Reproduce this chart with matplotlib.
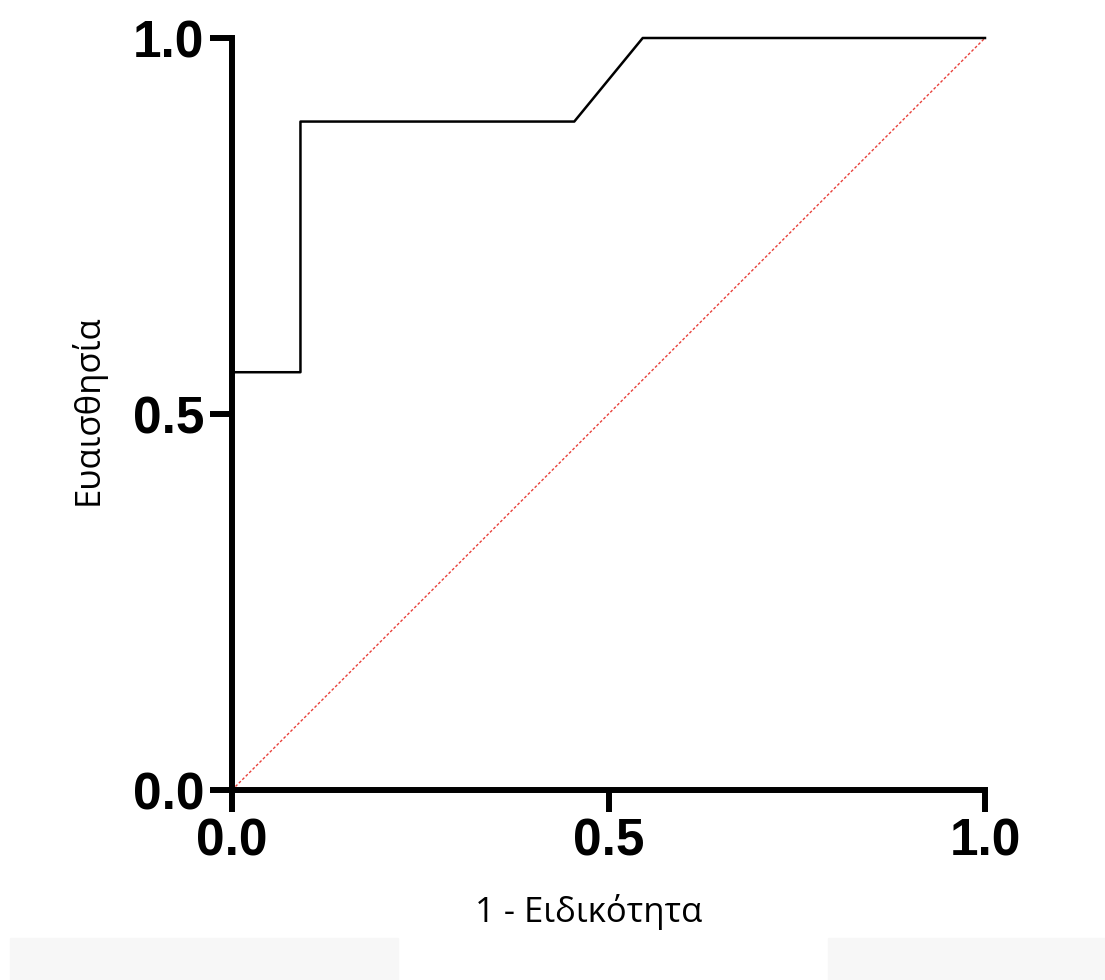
import matplotlib.pyplot as plt
from matplotlib.patches import Rectangle

# ROC curve data (1 - specificity, sensitivity)
fpr = [0.0, 1/11, 1/11, 5/11, 6/11, 1.0]
tpr = [5/9, 5/9, 8/9, 8/9, 1.0, 1.0]
ref_line = [0.0, 1.0]
ticks = [0.0, 0.5, 1.0]
tick_labels = ['0.0', '0.5', '1.0']

fig = plt.figure(figsize=(11.05, 9.8), dpi=100)
ax = fig.add_axes([232/1105, 190/980, 753/1105, 752/980])

ax.plot(fpr, tpr, color='black', lw=1.8, clip_on=False, zorder=3)
ax.plot(ref_line, ref_line, color='#e8403a', lw=1.0, ls=(0, (2, 1.5)), clip_on=False, zorder=2)

ax.set_xlim(0, 1)
ax.set_ylim(0, 1)
for s in ['top', 'right']:
    ax.spines[s].set_visible(False)
for s in ['left', 'bottom']:
    ax.spines[s].set_linewidth(4.3)
    ax.spines[s].set_capstyle('projecting')

ax.set_xticks(ticks)
ax.set_yticks(ticks)
ax.set_xticklabels(tick_labels, fontfamily='Liberation Sans', fontweight='bold', fontsize=37)
ax.set_yticklabels(tick_labels, fontfamily='Liberation Sans', fontweight='bold', fontsize=37)
ax.tick_params(axis='both', direction='out', length=16, width=4.3, pad=4)

ax.set_xlabel('1 - Ειδικότητα', fontfamily='Open Sans', fontsize=25, va='center')
ax.set_ylabel('Ευαισθησία', fontfamily='Open Sans', fontsize=25, va='center')
ax.xaxis.set_label_coords((589-232)/753, -(912-790)/752)
ax.yaxis.set_label_coords(-(232-88)/753, (790-410)/752)

# faint grey band at the bottom of the screenshot
fig.patches.append(Rectangle((10/1105, 0), 388/1105, 42/980, transform=fig.transFigure,
                             color='#f7f7f7', zorder=0))
fig.patches.append(Rectangle((828/1105, 0), 277/1105, 42/980, transform=fig.transFigure,
                             color='#f7f7f7', zorder=0))

fig.savefig('out.png', dpi=100)
